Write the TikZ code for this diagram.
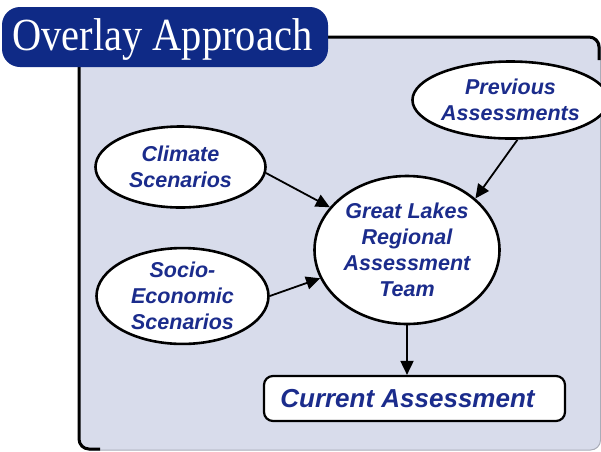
\documentclass[tikz,border=0pt]{standalone}
\usepackage{fontspec}
\setsansfont{Liberation Sans}
\newfontfamily\titlefont{Liberation Serif}
\usetikzlibrary{arrows.meta,shapes.geometric}
\definecolor{panelfill}{HTML}{D8DCEB}
\definecolor{panelgray}{HTML}{A9ACB8}
\definecolor{titleblue}{HTML}{0F2A86}
\definecolor{txtblue}{HTML}{1B2C8C}
\tikzset{
  oval/.style={ellipse, draw=black, line width=2.6pt, fill=white, inner sep=0pt,
    align=center, text=txtblue,
    font=\sffamily\bfseries\itshape\fontsize{21.5}{26}\selectfont},
  resultbox/.style={rectangle, rounded corners=9pt, draw=black, line width=2.2pt, fill=white,
    inner sep=0pt, text=txtblue, font=\sffamily\bfseries\itshape\fontsize{26}{30}\selectfont},
  flow/.style={line width=1.8pt, -{Triangle[length=14pt,width=13pt]}},
}
\begin{document}
\begin{tikzpicture}[x=1pt,y=-1pt]
\useasboundingbox (0,0) rectangle (601,451);
\clip (0,0) rectangle (601,451);
% panel
\draw[line width=1pt, draw=panelgray, fill=panelfill, rounded corners=10pt] (79,37) rectangle (600.5,450);
\draw[line width=3pt, rounded corners=10pt] (100,449) -- (79,449) -- (79,37) -- (599,37) -- (599,60);
% title
\node[fill=titleblue, rounded corners=18pt, minimum width=326pt, minimum height=60pt, inner sep=0pt] (title) at (165,37) {};
\node[anchor=base west, inner sep=0pt, text=white, font=\titlefont\fontsize{46}{48}\selectfont]
  (titletext) at (12,50) {\scalebox{0.88}[1]{Overlay Approach}};
% nodes
\node[oval, minimum width=170pt, minimum height=81pt] (clim) at (180.5,167) {Climate\\Scenarios};
\node[oval, minimum width=172pt, minimum height=85pt] (socio) at (182.5,296) {Socio-\\Economic\\Scenarios};
\node[oval, minimum width=164pt, minimum height=77pt] (prev) at (510.5,100) {Previous\\Assessments};
\node[oval, minimum width=185pt, minimum height=148pt] (glrat) at (407,250) {Great Lakes\\Regional\\Assessment\\Team};
\node[resultbox, minimum width=301pt, minimum height=45pt] (cur) at (414.5,398.5) {Current Assessment\hspace*{14pt}};
% connectors
\draw[flow] (clim.-4) -- (glrat.151);
\draw[flow] (socio.0) -- (glrat.198);
\draw[flow] (prev.-80) -- (glrat.37);
\draw[flow] (glrat.south) -- (glrat.south |- cur.north);
\end{tikzpicture}
\end{document}
